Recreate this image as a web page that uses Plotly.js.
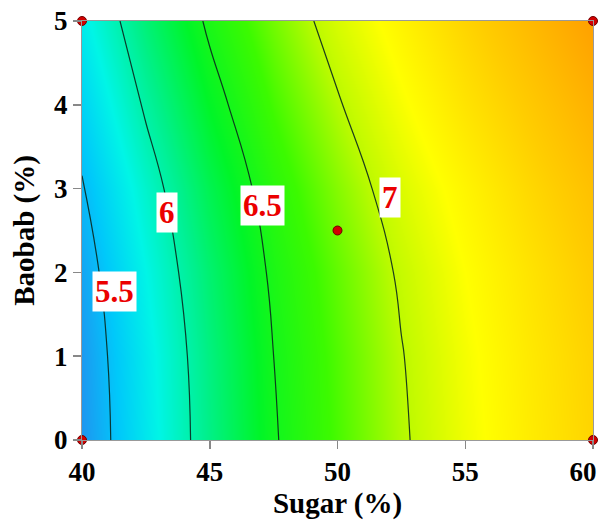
<!DOCTYPE html>
<html>
<head>
<meta charset="utf-8">
<script src="https://cdn.plot.ly/plotly-3.0.1.min.js"></script>
<style>html,body{margin:0;padding:0;background:#fff;}#chart{width:600px;height:523px;}</style>
</head>
<body>
<div id="chart"></div>
<script>
// Sugar (%) grid
const sugar = [40, 42.5, 45, 47.5, 50, 52.5, 55, 57.5, 60];
// Baobab (%) grid
const baobab = [0, 1, 2, 3, 4, 5];
// Response values (rows = baobab, cols = sugar)
const response = [
  [5.32, 5.72, 6.12, 6.48, 6.73, 6.97, 7.19, 7.38, 7.55],
  [5.34, 5.74, 6.14, 6.50, 6.75, 6.99, 7.21, 7.40, 7.57],
  [5.39, 5.80, 6.19, 6.54, 6.79, 7.03, 7.25, 7.44, 7.62],
  [5.48, 5.89, 6.28, 6.61, 6.87, 7.11, 7.32, 7.52, 7.70],
  [5.61, 6.03, 6.41, 6.72, 6.98, 7.22, 7.44, 7.63, 7.82],
  [5.75, 6.17, 6.54, 6.83, 7.10, 7.33, 7.55, 7.75, 7.95]
];
// Design points
const ptSugar = [40, 40, 60, 60, 50];
const ptBaobab = [0, 5, 0, 5, 2.5];
// Contour labels
const labelText = ["5.5", "6", "6.5", "7"];
const labelSugar = [41.29, 43.33, 47.05, 52.05];
const labelBaobab = [1.77, 2.72, 2.80, 2.89];
// Axis tick labels
const xTicks = [40, 45, 50, 55, 60];
const xTickText = ["40", "45", "50", "55", "60"];
const yTicks = [0, 1, 2, 3, 4, 5];
const yTickText = ["0", "1", "2", "3", "4", "5"];

const zmin = 5.32, zmax = 7.95;
const stops = [
  [5.32, 'rgb(30,150,240)'],
  [5.55, 'rgb(0,200,250)'],
  [5.80, 'rgb(0,245,230)'],
  [6.10, 'rgb(0,240,140)'],
  [6.40, 'rgb(0,245,40)'],
  [6.70, 'rgb(60,250,0)'],
  [7.00, 'rgb(190,250,0)'],
  [7.25, 'rgb(255,255,0)'],
  [7.60, 'rgb(255,205,0)'],
  [7.95, 'rgb(255,160,0)']
];
const colorscale = stops.map(s => [(s[0] - zmin) / (zmax - zmin), s[1]]);

const font = {family: '"Liberation Serif", "Times New Roman", serif', color: '#000'};

const traces = [
  {
    type: 'contour',
    x: sugar, y: baobab, z: response,
    zmin: zmin, zmax: zmax,
    colorscale: colorscale,
    showscale: false,
    contours: {coloring: 'heatmap', start: 5.5, end: 7, size: 0.5, showlabels: false},
    line: {color: 'rgba(10,40,30,0.9)', width: 1.2, smoothing: 1.3},
    hoverinfo: 'skip'
  },
  {
    type: 'scatter', mode: 'markers',
    x: ptSugar, y: ptBaobab,
    marker: {color: 'rgb(210,0,0)', size: 9, line: {color: 'rgb(110,0,0)', width: 1}},
    cliponaxis: false,
    hoverinfo: 'skip'
  }
];

const annotations = labelText.map((t, i) => ({
  x: labelSugar[i], y: labelBaobab[i], xref: 'x', yref: 'y',
  text: '<b>' + t + '</b>', showarrow: false,
  font: {family: font.family, size: 31, color: 'rgb(235,0,0)'},
  bgcolor: '#ffffff', borderpad: 2
}));

// last x label nudged left so it stays inside the page, as in the reference
const xTickLabels = xTickText.map((t, i) => '<b>' + t + '</b>' + (i === xTickText.length - 1 ? '&nbsp;&nbsp;&nbsp;' : ''));

const layout = {
  width: 600, height: 523,
  margin: {l: 82, r: 7, t: 21, b: 83},
  paper_bgcolor: '#fff', plot_bgcolor: '#fff',
  showlegend: false,
  xaxis: {
    range: [40, 60], tickvals: xTicks, ticktext: xTickLabels,
    ticks: 'outside', ticklen: 8, tickcolor: '#888', tickwidth: 1.5,
    ticklabeloverflow: 'allow',
    showgrid: false, zeroline: false, showline: true, linecolor: '#999', linewidth: 1, mirror: true,
    tickfont: Object.assign({size: 27}, font),
    title: {text: '<b>Sugar (%)</b>', font: Object.assign({size: 29}, font), standoff: 6}
  },
  yaxis: {
    range: [0, 5], tickvals: yTicks, ticktext: yTickText.map(t => '<b>' + t + '</b>'),
    ticks: 'outside', ticklen: 8, tickcolor: '#888', tickwidth: 1.5,
    ticklabeloverflow: 'allow',
    showgrid: false, zeroline: false, showline: true, linecolor: '#999', linewidth: 1, mirror: true,
    tickfont: Object.assign({size: 27}, font),
    title: {text: '<b>Baobab (%)</b>', font: Object.assign({size: 29}, font), standoff: 10}
  },
  annotations: annotations
};

Plotly.newPlot('chart', traces, layout, {displayModeBar: false, staticPlot: true});
</script>
</body>
</html>
